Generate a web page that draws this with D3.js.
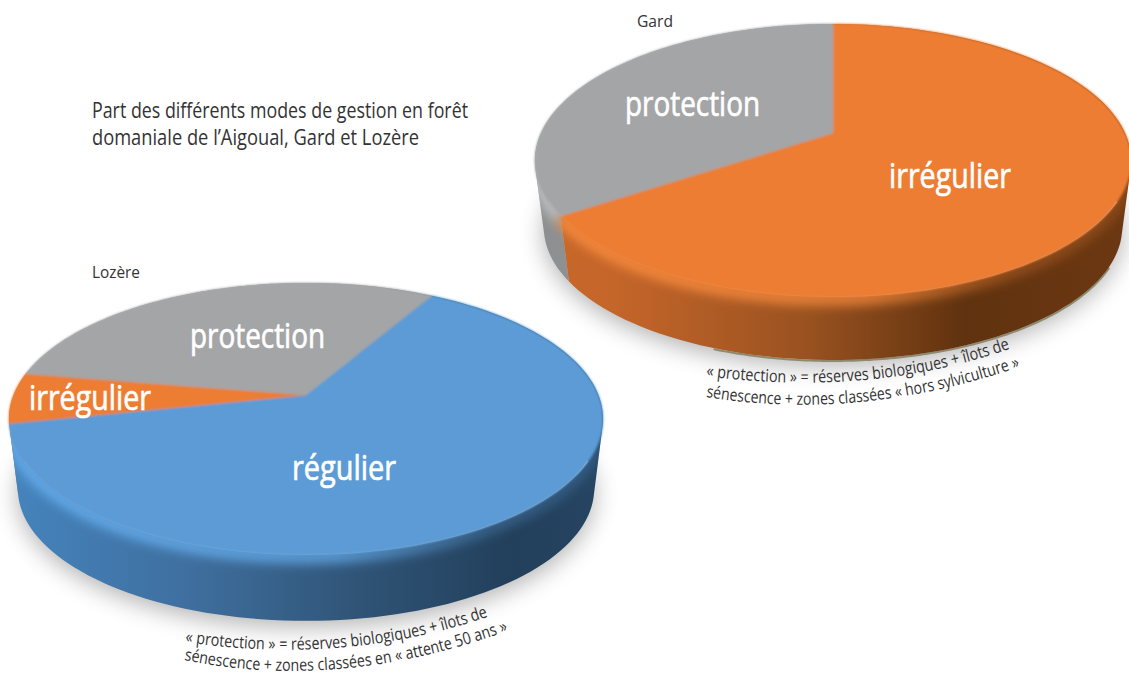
<!DOCTYPE html>
<html lang="fr"><head><meta charset="utf-8">
<script src="https://cdnjs.cloudflare.com/ajax/libs/d3/7.8.5/d3.min.js"></script>
<style>html,body{margin:0;background:#fff}svg{display:block}text{font-family:"Open Sans",sans-serif}</style>
</head><body><svg id="c" width="1129" height="673"></svg>
<script>
// ---- data, values in %
const gardCategories = ["irrégulier", "protection"];
const gardValues = [65.5, 34.5];
const lozereCategories = ["régulier", "irrégulier", "protection"];
const lozereValues = [63.4, 6.0, 30.6];
const titleLines = ["Part des différents modes de gestion en forêt", "domaniale de l’Aigoual, Gard et Lozère"];
const gardNote = ["« protection » = réserves biologiques + îlots de", "sénescence + zones classées « hors sylviculture »"];
const lozereNote = ["« protection » = réserves biologiques + îlots de", "sénescence + zones classées en « attente 50 ans »"];

// ---- styles
const colors = {"protection":"#a4a5a6","irrégulier":"#ed7d31","régulier":"#5b9bd5"};
const sideStops = {
  "protection":[[0,"#8d8f91"],[0.1,"#8f9193"],[1,"#6d6e70"]],
  "irrégulier":[[0,"#c8682a"],[0.13,"#c4652a"],[0.45,"#9a5220"],[0.72,"#60320f"],[1,"#6c3812"]],
  "régulier":[[0,"#4584bd"],[0.3,"#3f6f9f"],[0.6,"#2f5375"],[0.85,"#223f5b"],[1,"#264563"]]
};
const rimColors = {"protection":"#c0c3c5","irrégulier":"#fb8d3e","régulier":"#66aeee"};

const svg = d3.select("#c");
const defs = svg.append("defs");
[["b1",.8],["b5",5.5],["b12",12]].forEach(([id,s])=>{
  defs.append("filter").attr("id",id).attr("x","-20%").attr("y","-20%").attr("width","140%").attr("height","140%")
    .append("feGaussianBlur").attr("stdDeviation",s);
});

const line = d3.line().x(d=>d[0]).y(d=>d[1]);
let gid = 0;

function drawPie(cfg){
  const {cx,apexY,A,B,k,cyTop,cyBot,scaleBot,x0,x1} = cfg;
  const arcs = d3.pie().sort(null).startAngle(cfg.start).endAngle(cfg.start+2*Math.PI)
    .value(d=>d.value)(cfg.categories.map((c,i)=>({name:c,value:cfg.values[i]})));
  const topPt = a=>{ const X=Math.sin(a),Y=Math.cos(a),w=1+k*Y; return [cx+A*X/w, apexY-B*Y/w]; };
  const botPt = a=>{ const p=topPt(a); return [cx+(p[0]-cx)*scaleBot, cyBot+(p[1]-cyTop)*scaleBot]; };
  const steps = (a0,a1)=>d3.range(0,121).map(i=>a0+(a1-a0)*i/120);
  const whole = d3.range(0,181).map(i=>i/180*2*Math.PI);

  // soft drop shadow
  svg.append("path").attr("d",line(whole.map(a=>{const p=botPt(a);return [p[0],p[1]+6];}))+"Z")
    .attr("fill","#000").attr("opacity",.3).attr("filter","url(#b12)");

  const clipId="cl"+(gid++);
  const hullAll=d3.polygonHull(whole.map(topPt).concat(whole.map(botPt)));
  defs.append("clipPath").attr("id",clipId).append("path").attr("d",line(hullAll)+"Z");

  // optional sliver under the base
  if(cfg.sliver){
    svg.append("path").attr("d",line(steps(cfg.sliver[0],cfg.sliver[1]).map(a=>{const p=botPt(a);return [p[0],p[1]+1];})))
      .attr("fill","none").attr("stroke","#8d8a70").attr("stroke-width",2);
  }

  // side walls: union of consistently wound quads, drawn last slice first
  arcs.slice().reverse().forEach(d=>{
    const gr="g"+(gid++);
    const g=defs.append("linearGradient").attr("id",gr).attr("gradientUnits","userSpaceOnUse")
      .attr("x1",x0).attr("x2",x1).attr("y1",0).attr("y2",0);
    sideStops[d.data.name].forEach(s=>g.append("stop").attr("offset",s[0]).attr("stop-color",s[1]));
    const as=steps(d.startAngle,d.endAngle);
    let path="";
    for(let i=0;i<as.length-1;i++){
      const hull=d3.polygonHull([topPt(as[i]),topPt(as[i+1]),botPt(as[i+1]),botPt(as[i])]);
      if(hull) path+=line(hull)+"Z";
    }
    svg.append("path").attr("d",path).attr("fill",`url(#${gr})`).attr("fill-rule","nonzero");
  });

  const rimG=svg.append("g").attr("clip-path",`url(#${clipId})`);
  // soft bevel: the face colour bleeding onto the wall
  arcs.slice().reverse().forEach(d=>{
    const gr="g"+(gid++);
    const g=defs.append("linearGradient").attr("id",gr).attr("gradientUnits","userSpaceOnUse")
      .attr("x1",x0).attr("x2",x1).attr("y1",0).attr("y2",0);
    g.append("stop").attr("offset",0).attr("stop-color",rimColors[d.data.name]).attr("stop-opacity",.95);
    g.append("stop").attr("offset",.55).attr("stop-color",rimColors[d.data.name]).attr("stop-opacity",.8);
    g.append("stop").attr("offset",.8).attr("stop-color",colors[d.data.name]).attr("stop-opacity",.35);
    g.append("stop").attr("offset",1).attr("stop-color",colors[d.data.name]).attr("stop-opacity",.25);
    rimG.append("path").attr("d",line(steps(d.startAngle,d.endAngle).map(topPt).map(p=>[p[0],p[1]+2])))
      .attr("fill","none").attr("stroke",`url(#${gr})`).attr("stroke-width",13)
      .attr("filter","url(#b5)");
  });

  // top face
  const faces=svg.append("g").attr("filter","url(#b1)");
  arcs.forEach(d=>{
    faces.append("path")
      .attr("d",line([[cx,apexY]].concat(steps(d.startAngle,d.endAngle).map(topPt)))+"Z")
      .attr("fill",colors[d.data.name]).attr("stroke",colors[d.data.name]).attr("stroke-width",.5);
  });
}

drawPie({categories:lozereCategories,values:lozereValues,start:29.7*Math.PI/180,
  cx:306,apexY:395,A:292.4,B:131.8,k:.176,cyTop:419,cyBot:489,scaleBot:.97,x0:10,x1:603});
drawPie({categories:gardCategories,values:gardValues,start:0,
  cx:833,apexY:133,A:292,B:131,k:.2015,cyTop:160.5,cyBot:227.5,scaleBot:.97,x0:540,x1:1130,
  sliver:[118*Math.PI/180,200*Math.PI/180]});

// ---- text
function label(t,x,y,w,size,fill,bold){
  const s=svg.append("text").attr("x",x).attr("y",y).attr("font-size",size).attr("fill",fill)
    .attr("textLength",w).attr("lengthAdjust","spacingAndGlyphs").text(t);
  if(bold) s.attr("stroke",fill).attr("stroke-width",.7);
  return s;
}
label(titleLines[0],92,118,376,21,"#333");
label(titleLines[1],92,145,327,21,"#333");
label("Gard",637,27,36,17,"#333");
label("Lozère",92,278,48,17,"#333");
label(gardCategories[1],625,116,135,35,"#fff",true);
label(gardCategories[0],889,188,122,35,"#fff",true);
label(lozereCategories[2],190,348,135,35,"#fff",true);
label(lozereCategories[1],29,410,122,35,"#fff",true);
label(lozereCategories[0],292,480,104,35,"#fff",true);

function curved(t,d){
  const id="p"+(gid++);
  const p=defs.append("path").attr("id",id).attr("d",d);
  const len=p.node().getTotalLength()-2;
  svg.append("text").attr("font-size",17).attr("fill","#333")
    .append("textPath").attr("href","#"+id).attr("textLength",len).attr("lengthAdjust","spacingAndGlyphs").text(t);
}
curved(gardNote[0],"M706,376 Q870,398 1012,348");
curved(gardNote[1],"M706,397 Q860,422 1022,366");
curved(lozereNote[0],"M185,642 Q345,666 490,616");
curved(lozereNote[1],"M184,660 Q340,692 510,630");
</script></body></html>
